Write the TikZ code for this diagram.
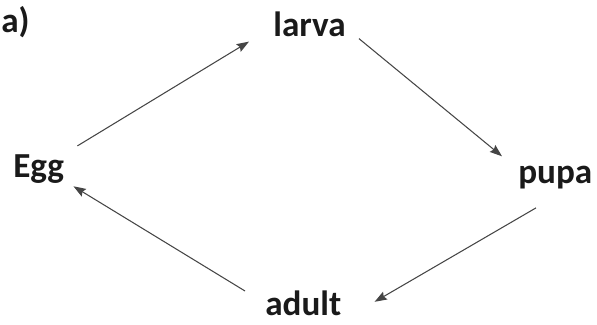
\documentclass[tikz,border=0pt]{standalone}
\usepackage{fontspec}
\setmainfont{Carlito}
\usepackage{tikz}
\usetikzlibrary{arrows.meta}
\definecolor{CycleInk}{HTML}{1A1A1A}
\definecolor{CycleLine}{HTML}{454545}

\begin{document}
\begin{tikzpicture}[
  x=0.02cm,y=-0.02cm,
  stage/.style={inner sep=0pt,anchor=base west,text=CycleInk,font=\fontsize{20}{24}\selectfont\bfseries},
  arr/.style={draw=CycleLine,line width=0.6pt,-{Stealth[length=7pt,width=5pt,inset=1pt]}},
]
\useasboundingbox (0,0) rectangle (597,324);
\node[stage] (tag) at (1,33) {a)};
\node[stage] (larva) at (273,37) {larva};
\node[stage] (pupa) at (518,183) {pupa};
\node[stage] (adult) at (265,315) {adult};
\node[stage] (egg) at (13,177) {Egg};
\draw[arr] ([shift={(13,-8)}]egg.north east) -- ([shift={(-24,4)}]larva.south west);
\draw[arr] ([shift={(13,1)}]larva.south east) -- ([shift={(-16,-9)}]pupa.north west);
\draw[arr] ([shift={(18,19)}]pupa.south west) -- ([shift={(33,-1)}]adult.east);
\draw[arr] ([shift={(-20,1)}]adult.north west) -- ([shift={(9,3)}]egg.south east);
\end{tikzpicture}
\end{document}
